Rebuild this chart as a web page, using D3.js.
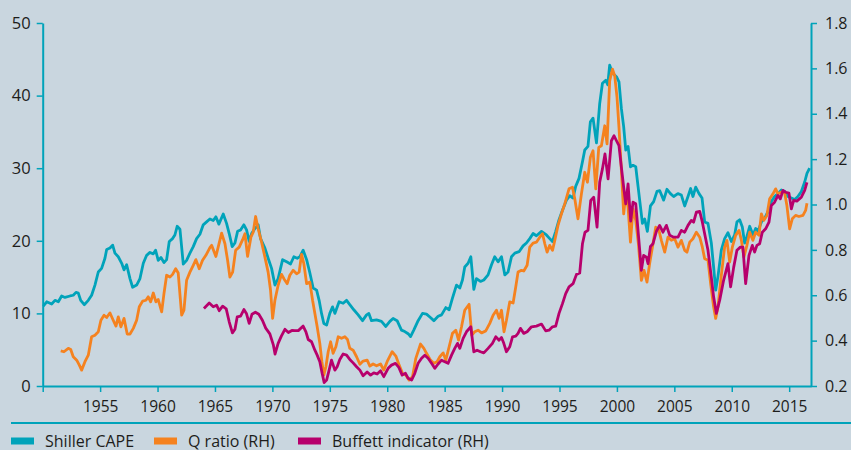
<!DOCTYPE html>
<html><head><meta charset="utf-8">
<script src="https://cdn.jsdelivr.net/npm/d3@7"></script>
<style>
body{margin:0;background:#c9d6df;}
svg{display:block;}
text{font-family:"Open Sans",sans-serif;fill:#1d1d1b;}
</style>
</head><body><svg id="c" width="851" height="450"></svg>
<script>
const yearTicks = [1950,1955,1960,1965,1970,1975,1980,1985,1990,1995,2000,2005,2010,2015];
const leftTicks = [0,10,20,30,40,50];
const rightTicks = [0.2,0.4,0.6,0.8,1.0,1.2,1.4,1.6,1.8];
const seriesNames = ["Shiller CAPE","Q ratio (RH)","Buffett indicator (RH)"];
const seriesColors = ["#00a3ba","#f5821f","#b7006c"];

// Shiller CAPE (left axis): [year, value]
const capeData = [
[1950.05,11.0],[1950.35,11.6],[1950.78,11.3],[1951.07,11.8],[1951.36,11.6],[1951.65,12.4],[1951.94,12.2],
[1952.38,12.4],[1952.66,12.5],[1952.90,12.9],[1953.10,12.8],[1953.31,11.8],[1953.62,11.2],[1953.97,11.8],
[1954.26,12.5],[1954.55,13.9],[1954.84,15.7],[1955.13,16.2],[1955.42,17.6],[1955.57,18.8],[1955.86,19.0],
[1956.09,19.4],[1956.29,18.3],[1956.58,17.8],[1956.88,16.9],[1957.08,16.0],[1957.31,16.7],[1957.60,14.8],
[1957.83,13.6],[1958.18,13.9],[1958.47,14.8],[1958.76,16.9],[1959.05,18.0],[1959.34,18.4],[1959.63,18.2],
[1959.83,18.7],[1960.06,17.3],[1960.30,17.7],[1960.56,17.0],[1960.79,17.4],[1961.02,19.9],[1961.31,20.3],
[1961.51,20.8],[1961.71,22.0],[1961.95,21.6],[1962.24,16.8],[1962.53,17.3],[1962.82,18.3],[1963.11,19.2],
[1963.40,20.3],[1963.69,20.9],[1963.98,22.2],[1964.27,22.6],[1964.56,23.0],[1964.85,22.8],[1965.08,23.3],
[1965.34,22.3],[1965.72,23.7],[1966.01,22.4],[1966.24,21.0],[1966.50,19.2],[1966.74,19.7],[1966.97,21.3],
[1967.23,21.5],[1967.52,22.2],[1967.75,21.5],[1967.98,19.9],[1968.19,21.0],[1968.48,21.7],[1968.76,22.2],
[1968.97,20.3],[1969.35,19.0],[1969.63,17.6],[1969.93,16.2],[1970.22,13.9],[1970.50,14.8],[1970.89,17.4],
[1971.24,17.1],[1971.58,16.8],[1971.87,17.8],[1972.16,17.6],[1972.39,17.8],[1972.68,18.7],[1972.98,17.4],
[1973.26,15.6],[1973.55,13.5],[1973.85,13.2],[1974.07,11.8],[1974.28,10.0],[1974.48,8.6],[1974.72,8.4],
[1975.00,10.0],[1975.24,10.9],[1975.44,10.0],[1975.81,11.6],[1976.16,11.4],[1976.46,11.8],[1976.74,11.2],
[1977.09,10.5],[1977.47,9.8],[1977.85,9.0],[1978.20,9.8],[1978.40,10.0],[1978.63,9.0],[1979.07,9.1],
[1979.50,8.9],[1979.88,8.2],[1980.23,8.9],[1980.51,9.3],[1980.86,9.0],[1981.24,7.7],[1981.53,7.5],
[1981.82,7.2],[1982.03,6.8],[1982.31,7.7],[1982.69,9.0],[1983.07,10.0],[1983.42,9.9],[1983.71,9.5],
[1984.06,9.0],[1984.43,9.6],[1984.73,9.8],[1985.10,10.8],[1985.39,10.5],[1985.68,12.1],[1986.03,13.9],
[1986.32,13.5],[1986.55,14.6],[1986.75,16.4],[1987.04,16.9],[1987.28,17.8],[1987.54,13.3],[1987.77,14.8],
[1988.12,14.4],[1988.41,14.6],[1988.78,15.3],[1989.08,16.7],[1989.36,17.8],[1989.65,17.1],[1989.95,17.8],
[1990.24,15.3],[1990.52,15.7],[1990.82,17.8],[1991.11,18.3],[1991.48,18.5],[1991.83,19.3],[1992.12,19.7],
[1992.41,20.3],[1992.70,21.0],[1992.99,20.7],[1993.43,21.3],[1993.86,20.8],[1994.15,20.3],[1994.39,19.9],
[1994.67,21.3],[1994.96,22.9],[1995.26,24.2],[1995.60,25.6],[1995.89,26.2],[1996.18,25.9],[1996.41,27.5],
[1996.70,28.6],[1997.00,30.9],[1997.20,32.5],[1997.48,33.0],[1997.69,36.4],[1997.92,36.9],[1998.22,33.5],
[1998.50,38.9],[1998.74,41.7],[1999.03,42.1],[1999.20,41.5],[1999.37,44.2],[1999.61,43.1],[1999.96,42.6],
[2000.18,41.9],[2000.39,38.2],[2000.59,35.7],[2000.77,32.5],[2000.97,33.0],[2001.18,30.2],[2001.40,30.4],
[2001.64,30.2],[2001.84,27.5],[2002.05,24.7],[2002.22,22.4],[2002.42,23.0],[2002.65,21.3],[2002.92,24.8],
[2003.20,25.4],[2003.49,26.8],[2003.73,26.9],[2004.07,25.6],[2004.36,27.1],[2004.66,26.5],[2004.94,26.1],
[2005.31,26.5],[2005.61,26.3],[2005.90,24.8],[2006.19,26.1],[2006.42,27.2],[2006.62,26.1],[2006.86,27.4],
[2007.15,26.5],[2007.41,25.9],[2007.64,22.6],[2007.93,22.4],[2008.22,19.7],[2008.42,16.4],[2008.60,13.2],
[2008.80,15.1],[2009.09,18.7],[2009.38,20.3],[2009.67,21.1],[2009.97,19.9],[2010.25,20.8],[2010.45,22.6],
[2010.69,22.9],[2010.92,21.9],[2011.12,19.7],[2011.32,20.6],[2011.56,22.0],[2011.85,20.8],[2012.08,21.7],
[2012.28,21.3],[2012.58,22.6],[2012.86,23.1],[2013.15,24.0],[2013.45,25.4],[2013.73,26.1],[2014.02,26.5],
[2014.32,27.0],[2014.61,26.8],[2014.89,26.1],[2015.19,25.9],[2015.48,25.7],[2015.76,26.1],[2016.06,26.8],
[2016.35,28.1],[2016.55,29.3],[2016.78,30.0]
];

// Q ratio (right axis)
const qData = [
[1951.57,0.355],[1951.85,0.351],[1952.23,0.366],[1952.44,0.361],[1952.66,0.329],[1952.96,0.314],[1953.19,0.292],
[1953.39,0.270],[1953.68,0.307],[1953.97,0.336],[1954.26,0.417],[1954.55,0.424],[1954.84,0.439],[1955.07,0.490],
[1955.34,0.512],[1955.57,0.502],[1955.86,0.522],[1956.14,0.490],[1956.38,0.464],[1956.58,0.505],[1956.81,0.461],
[1957.08,0.498],[1957.36,0.429],[1957.60,0.429],[1957.89,0.454],[1958.18,0.490],[1958.41,0.549],[1958.70,0.574],
[1958.99,0.578],[1959.19,0.593],[1959.40,0.571],[1959.63,0.610],[1959.86,0.571],[1960.06,0.581],[1960.36,0.527],
[1960.56,0.607],[1960.79,0.688],[1961.08,0.680],[1961.31,0.692],[1961.58,0.717],[1961.80,0.698],[1962.10,0.512],
[1962.30,0.534],[1962.53,0.666],[1962.82,0.702],[1963.11,0.732],[1963.34,0.757],[1963.63,0.717],[1963.92,0.754],
[1964.21,0.776],[1964.56,0.810],[1964.71,0.820],[1965.08,0.771],[1965.28,0.812],[1965.58,0.874],[1965.87,0.827],
[1966.10,0.754],[1966.30,0.680],[1966.54,0.702],[1966.80,0.798],[1967.11,0.812],[1967.41,0.845],[1967.61,0.871],
[1967.84,0.771],[1968.13,0.856],[1968.33,0.878],[1968.54,0.947],[1968.76,0.893],[1969.06,0.834],[1969.35,0.768],
[1969.63,0.702],[1969.84,0.622],[1970.02,0.498],[1970.22,0.578],[1970.50,0.644],[1970.80,0.692],[1971.00,0.673],
[1971.29,0.651],[1971.52,0.688],[1971.81,0.710],[1972.11,0.695],[1972.33,0.702],[1972.54,0.780],[1972.74,0.739],
[1972.98,0.651],[1973.26,0.658],[1973.50,0.578],[1973.70,0.520],[1973.90,0.461],[1974.13,0.388],[1974.31,0.307],
[1974.48,0.248],[1974.66,0.285],[1974.86,0.351],[1975.07,0.395],[1975.29,0.344],[1975.53,0.373],[1975.73,0.417],
[1976.02,0.410],[1976.31,0.417],[1976.54,0.405],[1976.74,0.366],[1977.03,0.358],[1977.33,0.329],[1977.62,0.296],
[1977.90,0.310],[1978.25,0.314],[1978.49,0.288],[1978.77,0.297],[1979.07,0.289],[1979.42,0.297],[1979.70,0.270],
[1979.99,0.307],[1980.43,0.351],[1980.75,0.332],[1981.04,0.292],[1981.33,0.256],[1981.62,0.248],[1981.91,0.226],
[1982.20,0.241],[1982.49,0.322],[1982.90,0.385],[1983.19,0.366],[1983.42,0.344],[1983.77,0.314],[1984.06,0.300],
[1984.34,0.307],[1984.58,0.329],[1984.87,0.346],[1985.10,0.314],[1985.39,0.373],[1985.68,0.432],[1985.97,0.446],
[1986.21,0.402],[1986.47,0.461],[1986.75,0.534],[1987.13,0.560],[1987.36,0.424],[1987.62,0.439],[1987.91,0.446],
[1988.21,0.434],[1988.58,0.443],[1988.93,0.476],[1989.22,0.512],[1989.51,0.534],[1989.74,0.498],[1989.95,0.534],
[1990.17,0.439],[1990.38,0.490],[1990.67,0.571],[1990.96,0.566],[1991.19,0.636],[1991.39,0.702],[1991.69,0.710],
[1991.89,0.707],[1992.18,0.732],[1992.41,0.812],[1992.70,0.830],[1992.99,0.834],[1993.28,0.856],[1993.52,0.871],
[1993.72,0.827],[1993.92,0.790],[1994.15,0.820],[1994.39,0.798],[1994.59,0.842],[1994.87,0.908],[1995.17,0.959],
[1995.46,1.003],[1995.83,1.069],[1996.13,1.076],[1996.33,1.025],[1996.61,0.937],[1996.91,1.047],[1997.20,1.142],
[1997.43,1.098],[1997.69,1.208],[1997.92,1.237],[1998.16,1.069],[1998.42,1.252],[1998.65,1.259],[1998.94,1.347],
[1999.14,1.267],[1999.37,1.545],[1999.61,1.597],[1999.81,1.567],[2000.01,1.472],[2000.18,1.340],[2000.39,1.149],
[2000.59,0.959],[2000.77,1.047],[2000.97,0.988],[2001.18,0.834],[2001.40,0.981],[2001.64,0.930],[2001.87,0.827],
[2002.13,0.666],[2002.36,0.710],[2002.62,0.658],[2002.85,0.740],[2003.09,0.812],[2003.38,0.900],[2003.66,0.886],
[2003.87,0.842],[2004.16,0.790],[2004.45,0.856],[2004.74,0.842],[2005.03,0.849],[2005.32,0.812],[2005.61,0.842],
[2005.90,0.798],[2006.10,0.790],[2006.34,0.834],[2006.62,0.849],[2006.92,0.878],[2007.21,0.856],[2007.44,0.812],
[2007.64,0.761],[2007.93,0.754],[2008.16,0.651],[2008.42,0.549],[2008.60,0.498],[2008.80,0.549],[2009.09,0.688],
[2009.38,0.812],[2009.58,0.842],[2009.82,0.746],[2010.05,0.812],[2010.34,0.864],[2010.63,0.886],[2010.84,0.842],
[2011.06,0.768],[2011.32,0.820],[2011.56,0.878],[2011.84,0.842],[2012.08,0.878],[2012.37,0.864],[2012.58,0.959],
[2012.78,0.930],[2013.06,0.952],[2013.30,1.025],[2013.59,1.047],[2013.82,1.069],[2014.02,1.047],[2014.32,1.054],
[2014.60,1.054],[2014.80,0.996],[2015.04,0.893],[2015.27,0.937],[2015.56,0.952],[2015.85,0.947],[2016.20,0.952],
[2016.43,0.974],[2016.55,1.006]
];

// Buffett indicator (right axis)
const buffettData = [
[1964.04,0.542],[1964.50,0.566],[1964.85,0.549],[1965.14,0.556],[1965.37,0.532],[1965.67,0.552],[1965.98,0.540],
[1966.24,0.483],[1966.52,0.434],[1966.74,0.450],[1966.94,0.505],[1967.23,0.508],[1967.52,0.537],[1967.75,0.518],
[1967.98,0.476],[1968.22,0.516],[1968.52,0.525],[1968.82,0.516],[1969.13,0.490],[1969.42,0.455],[1969.78,0.430],
[1970.09,0.380],[1970.23,0.341],[1970.50,0.388],[1970.78,0.420],[1971.09,0.450],[1971.39,0.436],[1971.70,0.445],
[1971.96,0.444],[1972.26,0.444],[1972.68,0.464],[1972.92,0.439],[1973.12,0.405],[1973.41,0.395],[1973.70,0.358],
[1973.90,0.336],[1974.13,0.307],[1974.33,0.256],[1974.51,0.215],[1974.72,0.226],[1974.94,0.270],[1975.15,0.314],
[1975.44,0.270],[1975.64,0.285],[1975.87,0.317],[1976.16,0.341],[1976.46,0.336],[1976.74,0.317],[1977.03,0.302],
[1977.33,0.285],[1977.62,0.270],[1977.90,0.245],[1978.25,0.262],[1978.55,0.248],[1978.83,0.258],[1979.12,0.253],
[1979.42,0.267],[1979.70,0.241],[1980.08,0.278],[1980.37,0.292],[1980.72,0.300],[1981.01,0.282],[1981.30,0.248],
[1981.59,0.256],[1981.82,0.234],[1982.12,0.226],[1982.40,0.256],[1982.69,0.300],[1982.99,0.322],[1983.27,0.336],
[1983.56,0.322],[1983.86,0.300],[1984.14,0.278],[1984.43,0.297],[1984.73,0.314],[1985.01,0.307],[1985.30,0.300],
[1985.60,0.336],[1985.88,0.366],[1986.12,0.388],[1986.32,0.366],[1986.61,0.410],[1986.90,0.439],[1987.28,0.461],
[1987.54,0.351],[1987.82,0.358],[1988.12,0.351],[1988.41,0.346],[1988.78,0.366],[1989.16,0.388],[1989.45,0.417],
[1989.74,0.402],[1989.95,0.414],[1990.15,0.388],[1990.38,0.351],[1990.67,0.373],[1990.91,0.417],[1991.19,0.420],
[1991.39,0.432],[1991.60,0.454],[1991.89,0.432],[1992.18,0.439],[1992.56,0.461],[1992.99,0.464],[1993.43,0.473],
[1993.80,0.443],[1994.09,0.446],[1994.39,0.461],[1994.67,0.464],[1994.96,0.520],[1995.26,0.563],[1995.54,0.607],
[1995.83,0.637],[1996.18,0.651],[1996.48,0.692],[1996.76,0.698],[1997.00,0.827],[1997.22,0.878],[1997.48,0.886],
[1997.72,1.018],[1997.98,1.032],[1998.27,0.900],[1998.50,1.098],[1998.74,1.157],[1998.96,1.223],[1999.23,1.113],
[1999.52,1.281],[1999.75,1.303],[1999.96,1.281],[2000.18,1.259],[2000.39,1.164],[2000.59,1.076],[2000.77,1.003],
[2000.97,1.091],[2001.20,0.927],[2001.40,1.010],[2001.64,1.003],[2001.84,0.886],[2002.13,0.710],[2002.33,0.776],
[2002.57,0.768],[2002.71,0.739],[2002.92,0.815],[2003.14,0.827],[2003.44,0.882],[2003.72,0.908],[2004.01,0.878],
[2004.31,0.908],[2004.60,0.864],[2004.94,0.856],[2005.32,0.856],[2005.61,0.886],[2005.90,0.878],[2006.19,0.908],
[2006.48,0.930],[2006.68,0.922],[2006.92,0.966],[2007.21,0.970],[2007.44,0.922],[2007.64,0.871],[2007.93,0.798],
[2008.22,0.680],[2008.42,0.593],[2008.66,0.520],[2008.95,0.578],[2009.29,0.666],[2009.67,0.739],[2009.90,0.637],
[2010.17,0.724],[2010.45,0.798],[2010.75,0.812],[2010.97,0.812],[2011.21,0.651],[2011.50,0.776],[2011.79,0.820],
[2011.99,0.790],[2012.19,0.820],[2012.43,0.827],[2012.66,0.878],[2012.95,0.893],[2013.24,0.922],[2013.45,0.996],
[2013.73,1.010],[2014.02,1.040],[2014.23,1.025],[2014.46,1.062],[2014.69,1.054],[2014.98,1.050],[2015.19,0.981],
[2015.39,1.018],[2015.67,1.015],[2016.06,1.032],[2016.35,1.062],[2016.55,1.098]
];

const teal = seriesColors[0];
const svg = d3.select("#c");
svg.append("rect").attr("width",851).attr("height",450).attr("fill","#c9d6df");

const x = d3.scaleLinear().domain([1950, 2016.9]).range([42.7, 811]);
const yL = d3.scaleLinear().domain([0, 50]).range([386, 23]);
const yR = d3.scaleLinear().domain([0.2, 1.8]).range([386, 23]);

function styleAxis(g, size){
  g.select(".domain").attr("stroke", teal).attr("stroke-width", 2);
  g.selectAll(".tick line").attr("stroke", teal).attr("stroke-width", 1.5);
  g.selectAll(".tick text").attr("fill", "#1d1d1b").style("font-size", size+"px")
    .style("font-family", "'Open Sans', sans-serif");
}

// series
const lineL = d3.line().x(d => x(d[0])).y(d => yL(d[1])).curve(d3.curveLinear);
const lineR = d3.line().x(d => x(d[0])).y(d => yR(d[1])).curve(d3.curveLinear);
const plot = svg.append("g");
plot.append("path").datum(capeData).attr("d", lineL).attr("fill","none")
  .attr("stroke", seriesColors[0]).attr("stroke-width", 2.8).attr("stroke-linejoin","round");
plot.append("path").datum(qData).attr("d", lineR).attr("fill","none")
  .attr("stroke", seriesColors[1]).attr("stroke-width", 2.8).attr("stroke-linejoin","round");
plot.append("path").datum(buffettData).attr("d", lineR).attr("fill","none")
  .attr("stroke", seriesColors[2]).attr("stroke-width", 2.8).attr("stroke-linejoin","round");

// axes
const gx = svg.append("g").attr("transform","translate(0,386)")
  .call(d3.axisBottom(x).tickValues(yearTicks).tickSize(6).tickSizeOuter(0).tickPadding(9)
    .tickFormat(d => d === 1950 ? "" : String(d)));
styleAxis(gx, 15.5);

const gl = svg.append("g").attr("transform","translate(42.7,0)")
  .call(d3.axisLeft(yL).tickValues(leftTicks).tickSize(6).tickSizeOuter(0).tickPadding(6)
    .tickFormat(d3.format("d")));
styleAxis(gl, 16.5);

const gr = svg.append("g").attr("transform","translate(811,0)")
  .call(d3.axisRight(yR).tickValues(rightTicks).tickSize(6).tickSizeOuter(0).tickPadding(8)
    .tickFormat(d3.format(".1f")));
styleAxis(gr, 16);

// separator
svg.append("line").attr("x1",11).attr("x2",851).attr("y1",423).attr("y2",423)
  .attr("stroke", teal).attr("stroke-width", 2);

// legend
const legendX = [11, 154, 298];
const lg = svg.append("g");
seriesNames.forEach((name, i) => {
  lg.append("rect").attr("x", legendX[i]).attr("y", 437.5).attr("width", 23).attr("height", 7)
    .attr("fill", seriesColors[i]);
  lg.append("text").attr("x", legendX[i] + 34).attr("y", 446.5).text(name)
    .style("font-size","16px");
});
</script>
</body></html>
